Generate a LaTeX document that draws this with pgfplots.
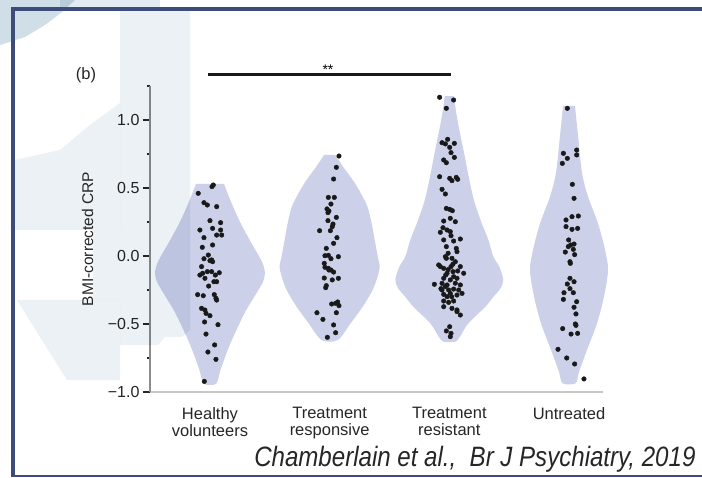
\documentclass[border=0pt]{standalone}
\usepackage{pgfplots}
\pgfplotsset{compat=1.18}
\usepackage{pgfplotstable}
\usepackage{fontspec}
\setmainfont{Liberation Sans}
\usepackage{graphicx}
\definecolor{vcol}{RGB}{204,208,233}
\definecolor{bcol}{RGB}{61,76,122}
\definecolor{wmA}{RGB}{236,241,245}
\definecolor{wmB}{RGB}{208,222,231}
\definecolor{wmC}{RGB}{226,235,241}

% points: jitter offset, value
\pgfplotstableread{
dx v
0.028 0.522
0.017 0.510
-0.098 0.461
-0.050 0.392
-0.022 0.375
0.056 0.363
0.000 0.260
0.089 0.245
-0.084 0.191
0.022 0.203
0.089 0.191
0.056 0.154
0.098 0.154
-0.050 0.135
0.022 0.081
-0.064 0.064
-0.014 0.007
-0.050 -0.020
0.014 -0.029
0.022 -0.042
0.000 -0.034
-0.070 -0.078
0.078 -0.123
-0.022 -0.115
0.014 -0.115
-0.061 -0.127
-0.084 -0.140
0.045 -0.140
-0.042 -0.164
0.033 -0.189
0.056 -0.189
-0.011 -0.221
-0.103 -0.284
-0.056 -0.292
0.036 -0.284
0.050 -0.311
0.056 -0.324
-0.070 -0.385
-0.042 -0.397
-0.033 -0.422
0.000 -0.439
-0.045 -0.485
0.067 -0.505
-0.033 -0.574
0.039 -0.654
-0.017 -0.706
0.050 -0.760
-0.047 -0.922
}\ptsH
\pgfplotstableread{
dx v
0.078 0.735
0.056 0.652
0.033 0.566
-0.011 0.431
0.039 0.431
0.011 0.382
-0.022 0.346
-0.006 0.331
-0.014 0.319
0.056 0.284
-0.014 0.260
0.028 0.235
0.022 0.216
-0.084 0.186
0.006 0.186
0.061 0.135
0.033 0.093
-0.028 0.056
-0.039 0.002
-0.011 0.005
0.073 -0.005
0.011 -0.020
-0.045 -0.054
-0.039 -0.083
-0.011 -0.091
0.011 -0.103
0.033 -0.118
-0.006 -0.103
-0.045 -0.162
0.022 -0.176
0.073 -0.164
-0.028 -0.218
-0.033 -0.233
0.017 -0.353
0.067 -0.338
0.078 -0.365
0.050 -0.348
-0.106 -0.417
0.056 -0.417
-0.056 -0.466
0.033 -0.507
0.050 -0.564
-0.019 -0.598
}\ptsR
\pgfplotstableread{
dx v
-0.081 1.167
0.036 1.147
-0.025 1.086
-0.014 0.858
-0.061 0.833
-0.033 0.824
0.042 0.828
0.003 0.799
0.014 0.760
0.042 0.725
-0.047 0.706
-0.025 0.686
-0.081 0.583
0.003 0.571
0.022 0.554
0.058 0.578
0.070 0.564
-0.061 0.490
-0.033 0.456
-0.025 0.350
0.003 0.343
0.025 0.333
-0.047 0.257
0.008 0.277
0.050 0.252
-0.053 0.208
-0.019 0.191
0.008 0.179
-0.075 0.174
0.014 0.149
-0.047 0.118
0.036 0.110
0.092 0.125
-0.025 0.069
0.058 0.056
0.064 0.032
-0.033 -0.005
-0.025 -0.017
0.022 -0.017
0.050 -0.042
-0.075 -0.078
-0.089 -0.066
-0.047 -0.091
0.014 -0.078
0.092 -0.078
0.031 -0.115
0.120 -0.127
-0.019 -0.127
0.036 -0.152
-0.047 -0.164
0.064 -0.164
0.008 -0.176
-0.125 -0.208
-0.061 -0.201
-0.019 -0.213
0.092 -0.213
-0.033 -0.225
-0.061 -0.250
-0.006 -0.250
0.036 -0.243
0.078 -0.250
0.008 -0.275
-0.047 -0.282
0.064 -0.287
-0.019 -0.299
0.106 -0.275
-0.047 -0.331
0.036 -0.331
-0.006 -0.341
-0.047 -0.373
0.022 -0.385
0.064 -0.409
0.092 -0.434
0.064 -0.397
0.003 -0.520
-0.025 -0.551
0.014 -0.569
0.008 -0.593
-0.010 -0.100
0.030 -0.060
-0.030 -0.140
0.050 -0.200
-0.070 -0.240
0.020 -0.300
-0.010 0.020
0.070 -0.110
}\ptsS
\pgfplotstableread{
dx v
-0.014 1.086
-0.047 0.755
0.064 0.779
-0.014 0.718
0.064 0.743
-0.056 0.681
0.028 0.527
0.042 0.424
-0.025 0.265
0.025 0.289
0.078 0.294
-0.025 0.216
0.025 0.196
0.072 0.203
-0.003 0.118
0.042 0.088
0.014 0.081
-0.006 0.069
0.036 0.049
-0.031 0.029
0.047 0.010
0.008 -0.042
0.011 -0.054
0.008 -0.164
0.042 -0.189
-0.014 -0.206
0.008 -0.240
-0.042 -0.270
0.036 -0.270
-0.047 -0.319
0.064 -0.336
0.042 -0.377
0.058 -0.426
0.053 -0.500
0.058 -0.510
-0.053 -0.534
0.017 -0.574
0.072 -0.569
-0.092 -0.686
-0.019 -0.750
0.047 -0.794
0.125 -0.904
}\ptsU

\begin{document}
\begin{tikzpicture}[x=1pt,y=1pt]
\useasboundingbox (0,0) rectangle (702,477);
\fill[white] (0,0) rectangle (702,477);

\begin{axis}[
  at={(150pt,85pt)}, anchor=south west,
  width=453pt, height=306pt, scale only axis,
  xmin=-0.501, xmax=3.284, ymin=-1, ymax=1.25,
  clip=false,
  axis x line*=bottom, axis y line*=left,
  axis line style={-},
  x axis line style={-, draw=black!22, line width=1.8pt},
  y axis line style={-, draw=black!45, line width=1.3pt},
  xtick={0,1,2,3},
  xticklabels={{Healthy\\volunteers},{Treatment\\responsive},{Treatment\\resistant},{Untreated}},
  major x tick style={draw=none},
  xticklabel style={align=center, font=\fontsize{16.5}{17}\selectfont, anchor=north, yshift=-5pt, text=black!85},
  ytick={-1,-0.5,0,0.5,1},
  yticklabels={−1.0,−0.5,0.0,0.5,1.0},
  minor ytick={-0.75,-0.25,0.25,0.75,1.25},
  yticklabel style={font=\fontsize{16}{18}\selectfont, text=black!85},
  tick align=outside,
  major tick length=7pt, minor tick length=3pt,
  tick style={black!85, line width=1.4pt},
  ylabel={BMI-corrected CRP},
  ylabel style={at={(axis description cs:-0.138,0.5)}, anchor=center, font=\fontsize{15.5}{17}\selectfont, text=black!85},
]
% violins (outline: right side downwards, left side upwards)
\addplot[fill=vcol, draw=none, smooth, tension=0.5] coordinates {
(0.117,0.53) (0.175,0.40) (0.251,0.25) (0.343,0.10) (0.409,0) (0.443,-0.06) (0.459,-0.125) (0.443,-0.19) (0.384,-0.28) (0.301,-0.40) (0.234,-0.52) (0.167,-0.65) (0.117,-0.765) (0.084,-0.85) (0.050,-0.94)
(-0.050,-0.94) (-0.084,-0.85) (-0.117,-0.765) (-0.167,-0.65) (-0.234,-0.52) (-0.301,-0.40) (-0.384,-0.28) (-0.443,-0.19) (-0.459,-0.125) (-0.443,-0.06) (-0.409,0) (-0.343,0.10) (-0.251,0.25) (-0.175,0.40) (-0.117,0.53)
} -- cycle;
\addplot[fill=vcol, draw=none, smooth, tension=0.5] coordinates {
(1.046,0.743) (1.117,0.65) (1.200,0.55) (1.267,0.45) (1.317,0.36) (1.351,0.24) (1.376,0.12) (1.401,0) (1.418,-0.078) (1.401,-0.15) (1.359,-0.25) (1.276,-0.373) (1.175,-0.495) (1.067,-0.618)
(0.933,-0.618) (0.825,-0.495) (0.724,-0.373) (0.641,-0.25) (0.599,-0.15) (0.582,-0.078) (0.599,0) (0.624,0.12) (0.649,0.24) (0.683,0.36) (0.733,0.45) (0.800,0.55) (0.883,0.65) (0.954,0.743)
} -- cycle;
\addplot[fill=vcol, draw=none, smooth, tension=0.5] coordinates {
(2.038,1.176) (2.058,1.05) (2.084,0.926) (2.125,0.75) (2.167,0.559) (2.209,0.40) (2.267,0.25) (2.326,0.118) (2.368,-0.005) (2.418,-0.08) (2.451,-0.176) (2.426,-0.24) (2.368,-0.30) (2.301,-0.373) (2.159,-0.495) (2.089,-0.593) (2.050,-0.63)
(1.950,-0.63) (1.911,-0.593) (1.841,-0.495) (1.699,-0.373) (1.632,-0.30) (1.574,-0.24) (1.549,-0.176) (1.582,-0.08) (1.632,-0.005) (1.674,0.118) (1.733,0.25) (1.791,0.40) (1.833,0.559) (1.875,0.75) (1.916,0.926) (1.942,1.05) (1.962,1.176)
} -- cycle;
\addplot[fill=vcol, draw=none, smooth, tension=0.5] coordinates {
(3.050,1.103) (3.079,0.853) (3.109,0.608) (3.159,0.436) (3.242,0.24) (3.301,0.044) (3.326,-0.103) (3.292,-0.299) (3.234,-0.495) (3.150,-0.691) (3.084,-0.85) (3.054,-0.936)
(2.946,-0.936) (2.916,-0.85) (2.850,-0.691) (2.766,-0.495) (2.708,-0.299) (2.674,-0.103) (2.699,0.044) (2.758,0.24) (2.841,0.436) (2.891,0.608) (2.921,0.853) (2.950,1.103)
} -- cycle;
% points
\addplot[only marks, mark=*, mark size=2.3pt, black!90] table[x expr=\thisrow{dx}+0, y=v]{\ptsH};
\addplot[only marks, mark=*, mark size=2.3pt, black!90] table[x expr=\thisrow{dx}+1, y=v]{\ptsR};
\addplot[only marks, mark=*, mark size=2.3pt, black!90] table[x expr=\thisrow{dx}+2, y=v]{\ptsS};
\addplot[only marks, mark=*, mark size=2.3pt, black!90] table[x expr=\thisrow{dx}+3, y=v]{\ptsU};
% significance bar
\draw[line width=3.5pt, black!90] (axis cs:-0.017,1.335) -- (axis cs:2.013,1.335);
\node[font=\fontsize{14}{16}\selectfont] at (axis cs:0.986,1.37) {**};
\end{axis}

% slide decoration (px coordinates, y downwards)
\begin{scope}[shift={(0,477)}, yscale=-1, blend mode=multiply]
\fill[wmC] (60,0) -- (160,0) -- (160,11) -- (60,11) -- cycle;
\fill[wmB] (0,0) -- (75,0) -- (62,12) -- (45,25) -- (25,37) -- (0,45) -- cycle;
\fill[wmA] (120,11) -- (190,11) -- (190,330) -- (182,337) -- (165,337) -- (158,345) -- (120,345) -- cycle;
\fill[wmA] (15,160) -- (60,150) -- (90,125) -- (120,103) -- (120,230) -- (15,230) -- cycle;
\fill[wmA] (93,230) -- (120,230) -- (120,300) -- (93,300) -- cycle;
\fill[wmA] (17,300) -- (120,300) -- (120,380) -- (67,380) -- (45,345) -- cycle;
\end{scope}
\begin{scope}[shift={(0,477)}, yscale=-1]
\fill[bcol] (11,7.5) rectangle (702,11);
\fill[bcol] (11,7.5) rectangle (15,477);
\fill[bcol] (11,474.5) rectangle (702,477);
\node[font=\fontsize{16.5}{18}\selectfont, text=black!85] at (86,75) {(b)};
\node[anchor=base east, text=black!85] at (699,467) {\scalebox{0.86}[1]{\fontsize{28}{30}\selectfont\itshape Chamberlain et al.,\ \ Br J Psychiatry, 2019}};
\end{scope}
\end{tikzpicture}
\end{document}
